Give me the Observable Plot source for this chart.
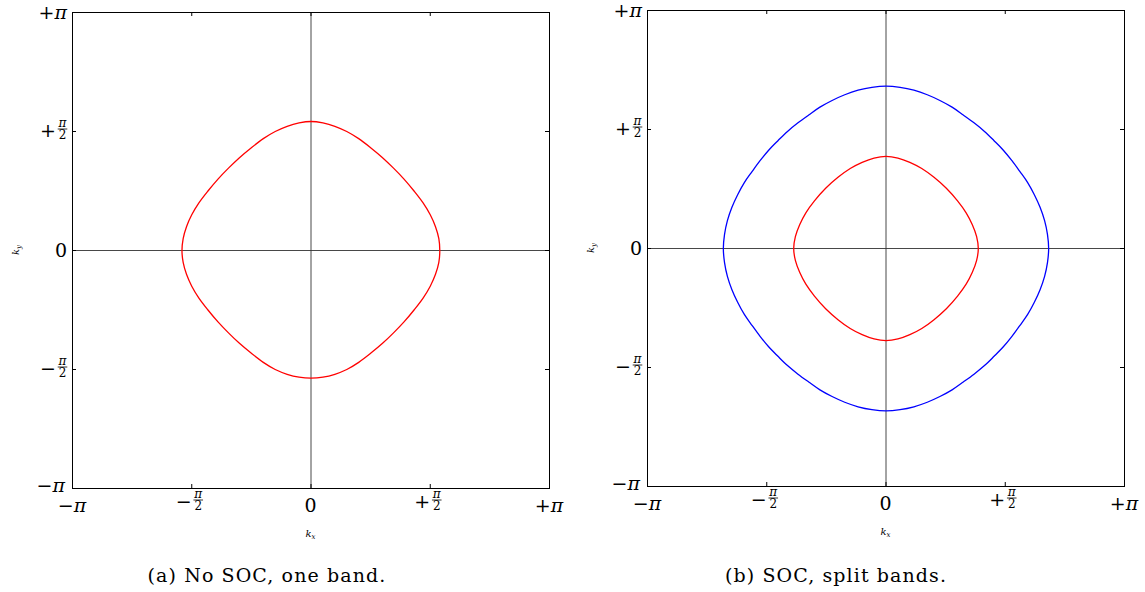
<!DOCTYPE html>
<html>
<head>
<meta charset="utf-8">
<script src="https://cdn.jsdelivr.net/npm/d3@7"></script>
<script src="https://cdn.jsdelivr.net/npm/@observablehq/plot@0.6"></script>
<style>
  html, body { margin: 0; padding: 0; background: #fff; }
  #wrap { position: relative; width: 1145px; height: 592px; overflow: hidden; font-family: "DejaVu Serif", serif; }
  .panel { position: absolute; top: 0; }
  .cap { position: absolute; top: 566px; font-size: 19px; line-height: 19px; letter-spacing: 1.1px; white-space: nowrap; transform: translateX(-50%); color: #000; font-family: "DejaVu Serif", serif; }
</style>
</head>
<body>
<div id="wrap"></div>
<script>
// ---- data (k in units of pi) ----
const tickValues = [-1, -0.5, 0, 0.5, 1];
const tickLabels = ["−π", "−π/2", "0", "+π/2", "+π"];
const xLabel = ["k", "x"];
const yLabel = ["k", "y"];
const captions = ["(a) No SOC, one band.", "(b) SOC, split bands."];

// Panel (a): single band Fermi contour
const bandA = [
  [0.540,0.000],[0.536,0.050],[0.522,0.100],[0.500,0.150],[0.470,0.200],[0.432,0.250],[0.390,0.300],[0.346,0.346],[0.300,0.390],[0.250,0.432],[0.200,0.470],[0.150,0.500],[0.100,0.522],[0.050,0.536],
  [0.000,0.542],
  [-0.050,0.536],[-0.100,0.522],[-0.150,0.500],[-0.200,0.470],[-0.250,0.432],[-0.300,0.390],[-0.346,0.346],[-0.390,0.300],[-0.432,0.250],[-0.470,0.200],[-0.500,0.150],[-0.522,0.100],[-0.536,0.050],
  [-0.541,0.000],
  [-0.536,-0.050],[-0.522,-0.100],[-0.500,-0.150],[-0.470,-0.200],[-0.432,-0.250],[-0.390,-0.300],[-0.346,-0.346],[-0.300,-0.390],[-0.250,-0.432],[-0.200,-0.470],[-0.150,-0.500],[-0.100,-0.520],[-0.050,-0.532],
  [0.000,-0.536],
  [0.050,-0.532],[0.100,-0.520],[0.150,-0.500],[0.200,-0.470],[0.250,-0.432],[0.300,-0.390],[0.346,-0.346],[0.390,-0.300],[0.432,-0.250],[0.470,-0.200],[0.500,-0.150],[0.522,-0.100],[0.536,-0.050]
];

// Panel (b): outer (blue) band
const bandOuter = [
  [0.682,0.000],[0.677,0.059],[0.665,0.117],[0.646,0.173],[0.622,0.226],[0.594,0.277],[0.561,0.324],[0.528,0.369],[0.492,0.413],[0.453,0.453],[0.413,0.492],[0.369,0.528],[0.324,0.561],[0.277,0.594],[0.226,0.622],[0.173,0.646],[0.117,0.665],[0.059,0.677],
  [0.000,0.682],
  [-0.059,0.677],[-0.117,0.665],[-0.173,0.646],[-0.226,0.622],[-0.277,0.594],[-0.324,0.561],[-0.369,0.528],[-0.413,0.492],[-0.453,0.453],[-0.492,0.413],[-0.528,0.369],[-0.561,0.324],[-0.594,0.277],[-0.622,0.226],[-0.646,0.173],[-0.665,0.117],[-0.677,0.059],
  [-0.682,0.000],
  [-0.677,-0.059],[-0.665,-0.117],[-0.646,-0.173],[-0.622,-0.226],[-0.594,-0.277],[-0.561,-0.324],[-0.528,-0.369],[-0.492,-0.413],[-0.453,-0.453],[-0.413,-0.492],[-0.369,-0.528],[-0.324,-0.561],[-0.277,-0.594],[-0.226,-0.622],[-0.173,-0.646],[-0.117,-0.665],[-0.059,-0.677],
  [0.000,-0.682],
  [0.059,-0.677],[0.117,-0.665],[0.173,-0.646],[0.226,-0.622],[0.277,-0.594],[0.324,-0.561],[0.369,-0.528],[0.413,-0.492],[0.453,-0.453],[0.492,-0.413],[0.528,-0.369],[0.561,-0.324],[0.594,-0.277],[0.622,-0.226],[0.646,-0.173],[0.665,-0.117],[0.677,-0.059]
];

// Panel (b): inner (red) band
const bandInner = [
  [0.387,0.000],[0.380,0.050],[0.362,0.100],[0.336,0.150],[0.300,0.200],[0.253,0.253],[0.200,0.300],[0.150,0.336],[0.100,0.362],[0.050,0.380],
  [0.000,0.387],
  [-0.050,0.380],[-0.100,0.362],[-0.150,0.336],[-0.200,0.300],[-0.253,0.253],[-0.300,0.200],[-0.336,0.150],[-0.362,0.100],[-0.380,0.050],
  [-0.387,0.000],
  [-0.380,-0.050],[-0.362,-0.100],[-0.336,-0.150],[-0.300,-0.200],[-0.253,-0.253],[-0.200,-0.300],[-0.150,-0.336],[-0.100,-0.362],[-0.050,-0.380],
  [0.000,-0.387],
  [0.050,-0.380],[0.100,-0.362],[0.150,-0.336],[0.200,-0.300],[0.253,-0.253],[0.300,-0.200],[0.336,-0.150],[0.362,-0.100],[0.380,-0.050]
];

const panels = [
  {left: 0, width: 572, mt: 12, mb: 57, mr: 23, curves: [{data: bandA, color: "#ff0000"}], caption: captions[0], capX: 267},
  {left: 575, width: 569, mt: 10, mb: 59, mr: 20, curves: [{data: bandOuter, color: "#0000ff"}, {data: bandInner, color: "#ff0000"}], caption: captions[1], capX: 836}
];

const FONT = "DejaVu Serif";
const H = 545, ML = 72, TL = 4;
const wrap = document.getElementById("wrap");
const inner = tickValues.filter(v => Math.abs(v) < 1);

function addLabel(sel, s) {
  for (const ch of s) {
    const t = sel.append("tspan").text(ch);
    if (ch === "π") t.attr("font-style", "italic");
  }
}

for (const p of panels) {
  const plotW = p.width - ML - p.mr;
  const plotH = H - p.mt - p.mb;
  const chart = Plot.plot({
    width: p.width, height: H,
    marginLeft: ML, marginRight: p.mr, marginTop: p.mt, marginBottom: p.mb,
    x: {domain: [-1, 1], axis: null},
    y: {domain: [-1, 1], axis: null},
    style: {background: "transparent", overflow: "visible", fontFamily: FONT},
    marks: [
      Plot.ruleX([0], {stroke: "#333", strokeWidth: 0.9}),
      Plot.ruleY([0], {stroke: "#333", strokeWidth: 0.9}),
      ...p.curves.map(c => Plot.line(c.data, {x: d => d[0], y: d => d[1], curve: "catmull-rom-closed", stroke: c.color, strokeWidth: 1.3})),
      Plot.tickX(inner, {x: d => d, insetTop: plotH - TL, stroke: "#000"}),
      Plot.tickX(inner, {x: d => d, insetBottom: plotH - TL, stroke: "#000"}),
      Plot.tickY(inner, {y: d => d, insetRight: plotW - TL, stroke: "#000"}),
      Plot.tickY(inner, {y: d => d, insetLeft: plotW - TL, stroke: "#000"}),
      Plot.frame({stroke: "#000", strokeWidth: 1})
    ]
  });
  chart.classList.add("panel");
  chart.style.left = p.left + "px";
  wrap.appendChild(chart);

  const sx = chart.scale("x"), sy = chart.scale("y");
  const svg = d3.select(chart);
  const g = svg.append("g").attr("font-family", FONT).attr("fill", "#000");
  const B = sy.apply(-1), L = sx.apply(-1);

  function fraction(parent, cx, barY, sign) {
    const fg = parent.append("g").attr("transform", `translate(${cx},${barY})`);
    fg.append("text").attr("x", 0).attr("y", -1.6).attr("text-anchor", "middle").attr("font-size", 12).attr("font-style", "italic").text("π");
    fg.append("line").attr("x1", -4.8).attr("x2", 4.8).attr("y1", 0).attr("y2", 0).attr("stroke", "#000").attr("stroke-width", 0.8);
    fg.append("text").attr("x", 0).attr("y", 10.2).attr("text-anchor", "middle").attr("font-size", 12).text("2");
    fg.append("text").attr("x", -14.5).attr("y", 7.5).attr("text-anchor", "middle").attr("font-size", 19).text(sign);
  }

  tickValues.forEach((v, i) => {
    const lab = tickLabels[i];
    const px = sx.apply(v), py = sy.apply(v);
    if (lab.includes("/")) {
      fraction(g, px + 7, B + 12, lab[0]);
      fraction(g, L - 9.5, py - 2, lab[0]);
    } else {
      addLabel(g.append("text").attr("x", px).attr("y", B + 24).attr("text-anchor", "middle").attr("font-size", 19), lab);
      const yOff = v === -1 ? 3.5 : 6.5;
      const xOff = v === -1 ? 7 : 5;
      addLabel(g.append("text").attr("x", L - xOff).attr("y", py + yOff).attr("text-anchor", "end").attr("font-size", 19), lab);
    }
  });

  // axis labels k_x, k_y
  const cx = sx.apply(0), cy = sy.apply(0);
  const tx = g.append("text").attr("x", cx).attr("y", B + 49).attr("text-anchor", "middle").attr("font-size", 10).attr("font-style", "italic");
  tx.append("tspan").text(xLabel[0]);
  tx.append("tspan").attr("font-size", 7).attr("dy", 2).text(xLabel[1]);
  const ty = g.append("text").attr("transform", `translate(${L - 53},${cy}) rotate(-90)`).attr("text-anchor", "middle").attr("font-size", 10).attr("font-style", "italic");
  ty.append("tspan").text(yLabel[0]);
  ty.append("tspan").attr("font-size", 7).attr("dy", 2).text(yLabel[1]);

  const cap = document.createElement("div");
  cap.className = "cap";
  cap.style.left = p.capX + "px";
  cap.textContent = p.caption;
  wrap.appendChild(cap);
}
</script>
</body>
</html>
